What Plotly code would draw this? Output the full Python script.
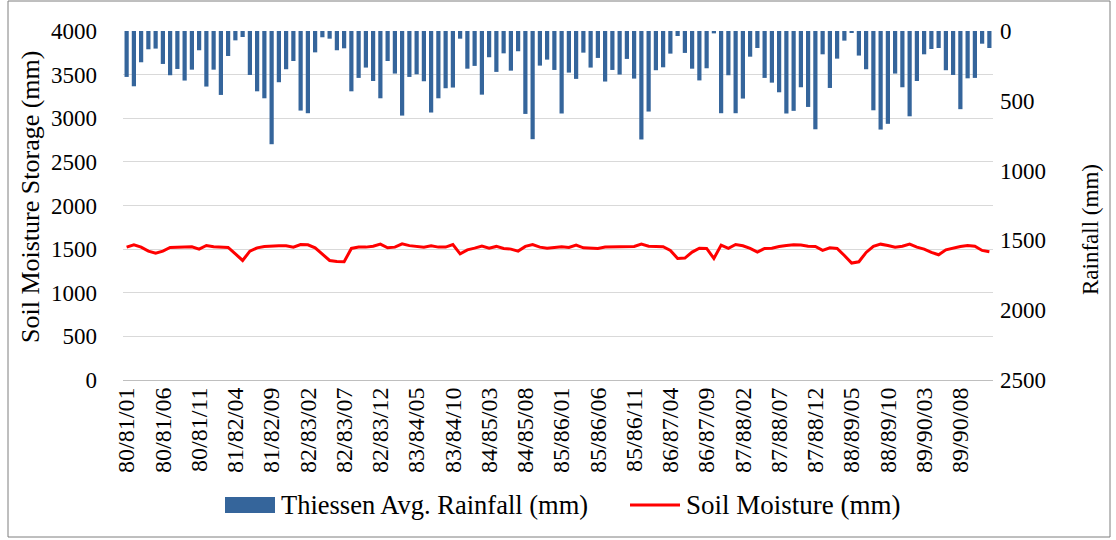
import plotly.graph_objects as go

years = ["80/81", "81/82", "82/83", "83/84", "84/85", "85/86", "86/87", "87/88", "88/89", "89/90"]
months = ["01", "02", "03", "04", "05", "06", "07", "08", "09", "10", "11", "12"]
categories = [f"{y}/{m}" for y in years for m in months]

rainfall = [
    329, 396, 224, 131, 126, 236, 317, 272, 355, 277, 138, 398, 277, 458, 179, 67, 43, 315, 432, 482,
    811, 367, 274, 215, 570, 589, 153, 45, 55, 138, 124, 432, 336, 262, 358, 482, 215, 305, 606, 329,
    310, 360, 584, 482, 410, 405, 55, 270, 250, 456, 188, 293, 160, 284, 145, 594, 775, 248, 205, 279,
    591, 298, 343, 155, 262, 193, 362, 279, 312, 200, 341, 777, 577, 281, 260, 162, 36, 157, 270, 354,
    267, 17, 589, 317, 589, 484, 184, 122, 336, 370, 439, 591, 572, 403, 544, 704, 167, 408, 198, 69,
    10, 176, 274, 568, 706, 665, 305, 403, 611, 358, 167, 129, 122, 281, 315, 560, 339, 336, 91, 122,
]

soil_moisture = [
    1523, 1550, 1523, 1477, 1454, 1477, 1519, 1519, 1523, 1527, 1500, 1542, 1527, 1519, 1519, 1446, 1370, 1477, 1515, 1531,
    1538, 1538, 1538, 1523, 1553, 1550, 1515, 1439, 1370, 1359, 1355, 1508, 1523, 1523, 1534, 1557, 1515, 1523, 1561, 1540,
    1531, 1523, 1538, 1523, 1523, 1553, 1446, 1492, 1511, 1534, 1511, 1531, 1508, 1500, 1477, 1531, 1553, 1523, 1511, 1523,
    1527, 1519, 1546, 1515, 1508, 1508, 1523, 1523, 1523, 1527, 1531, 1557, 1534, 1531, 1527, 1485, 1393, 1397, 1466, 1510,
    1508, 1393, 1546, 1508, 1553, 1538, 1508, 1466, 1508, 1511, 1531, 1542, 1550, 1546, 1534, 1531, 1485, 1515, 1508, 1427,
    1340, 1355, 1462, 1531, 1557, 1542, 1523, 1534, 1557, 1523, 1500, 1462, 1435, 1492, 1515, 1531, 1542, 1534, 1485, 1469,
]

tick_labels = categories[::5]
left_ticks = [0, 500, 1000, 1500, 2000, 2500, 3000, 3500, 4000]
right_ticks = [0, 500, 1000, 1500, 2000, 2500]

FONT = "Liberation Serif, Times New Roman, serif"
BAR_COLOR = "#35659b"
LINE_COLOR = "#ff0000"

# plot area in pixels
L, R, T, B = 123, 123, 31, 160
W, H = 1116, 540
PW, PH = W - L - R, H - T - B


def px(xp):
    return (xp - L) / PW


def py(yp):
    return (H - B - yp) / PH


fig = go.Figure()
fig.add_trace(go.Bar(
    x=categories, y=rainfall, base=0, yaxis="y2",
    name="Thiessen Avg. Rainfall (mm)",
    marker=dict(color=BAR_COLOR, line=dict(width=0)),
))
fig.add_trace(go.Scatter(
    x=categories, y=soil_moisture, yaxis="y", mode="lines",
    name="Soil Moisture (mm)",
    line=dict(color=LINE_COLOR, width=3),
))

fig.update_layout(
    width=W, height=H,
    margin=dict(l=L, r=R, t=T, b=B, pad=0),
    paper_bgcolor="white", plot_bgcolor="white",
    font=dict(family=FONT, size=23, color="#000000"),
    showlegend=False,
    bargap=0.42,
    xaxis=dict(
        type="category",
        tickmode="array", tickvals=tick_labels, ticktext=tick_labels,
        tickangle=-90, tickfont=dict(size=24),
        ticklabelstandoff=-3,
        showgrid=False, showline=True, linecolor="#bfbfbf", linewidth=1,
        ticks="", range=[-0.5, len(categories) - 0.5],
    ),
    yaxis=dict(
        range=[0, 4000], tickvals=left_ticks,
        showgrid=True, gridcolor="#d9d9d9", gridwidth=1,
        zeroline=False, showline=False, ticks="",
        ticklabelstandoff=25,
    ),
    yaxis2=dict(
        range=[2500, 0], tickvals=right_ticks,
        overlaying="y", side="right",
        showgrid=False, zeroline=False, showline=False, ticks="",
        ticklabelstandoff=6,
    ),
)

# axis titles
fig.add_annotation(xref="paper", yref="paper", x=px(30), y=py(197),
                   text="Soil Moisture Storage (mm)", showarrow=False, textangle=-90,
                   xanchor="center", yanchor="middle", font=dict(size=26))
fig.add_annotation(xref="paper", yref="paper", x=px(1090), y=py(230),
                   text="Rainfall (mm)", showarrow=False, textangle=-90,
                   xanchor="center", yanchor="middle", font=dict(size=23))

# chart border
fig.add_shape(type="rect", xref="paper", yref="paper",
              x0=px(8), x1=px(1110), y0=py(537), y1=py(1),
              line=dict(color="#7f7f7f", width=1), fillcolor="rgba(0,0,0,0)", layer="below")

# legend (drawn manually to match the wide swatches)
fig.add_shape(type="rect", xref="paper", yref="paper",
              x0=px(225), x1=px(275), y0=py(513), y1=py(497),
              line=dict(width=0), fillcolor=BAR_COLOR)
fig.add_annotation(xref="paper", yref="paper", x=px(279), y=py(505),
                   text="Thiessen Avg. Rainfall (mm)", showarrow=False,
                   xanchor="left", yanchor="middle", font=dict(size=26.5))
fig.add_shape(type="line", xref="paper", yref="paper",
              x0=px(630), x1=px(680), y0=py(505), y1=py(505),
              line=dict(color=LINE_COLOR, width=3))
fig.add_annotation(xref="paper", yref="paper", x=px(684), y=py(505),
                   text="Soil Moisture (mm)", showarrow=False,
                   xanchor="left", yanchor="middle", font=dict(size=27))

fig.write_html("out.html", config={"displayModeBar": False},
               post_script="document.body.style.margin='0';")
